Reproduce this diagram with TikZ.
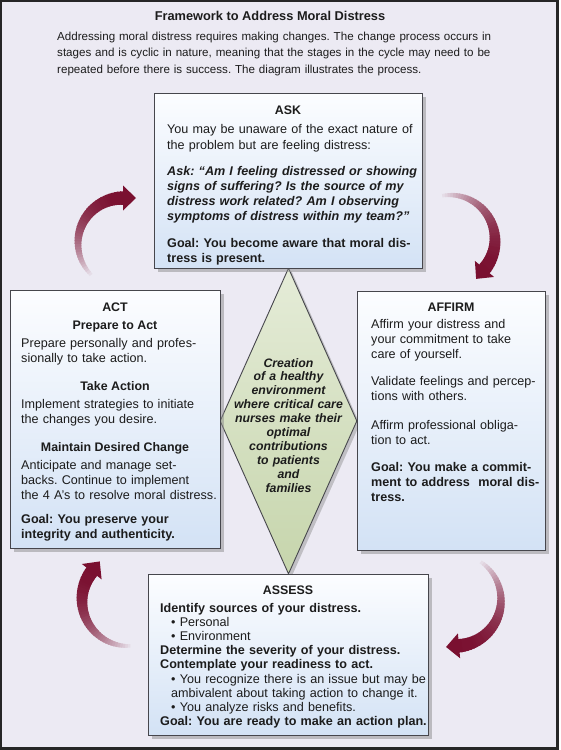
\documentclass[tikz,border=0pt]{standalone}
\usepackage{fontspec}
\setmainfont{Liberation Sans}
\usetikzlibrary{shapes.geometric,shadows}
\frenchspacing
\definecolor{bgcol}{RGB}{236,234,243}
\definecolor{mdred}{RGB}{122,16,48}
\definecolor{boxtop}{RGB}{252,253,255}
\definecolor{boxbot}{RGB}{211,226,245}
\definecolor{dtop}{RGB}{229,236,216}
\definecolor{dbot}{RGB}{198,213,172}
\definecolor{edgecol}{RGB}{70,70,76}
\definecolor{ink}{RGB}{28,28,28}
\newcommand{\mdarrow}[5]{%
  \foreach \i in {0,...,39}{%
    \pgfmathsetmacro{\ta}{#4+(#5-#4)*\i/40}%
    \pgfmathsetmacro{\tb}{#4+(#5-#4)*(\i+1.4)/40}%
    \pgfmathsetmacro{\w}{3.5+10*\i/39}%
    \pgfmathsetmacro{\p}{int(6+94*(\i/39)*(2-\i/39))}%
    \draw[line width=\w pt, draw=mdred!\p!bgcol] ({#1+#3*cos(\ta)},{#2+#3*sin(\ta)}) -- ({#1+#3*cos(\tb)},{#2+#3*sin(\tb)});
  }
  \pgfmathsetmacro{\bx}{#1+#3*cos(#5)}%
  \pgfmathsetmacro{\by}{#2+#3*sin(#5)}%
  \pgfmathsetmacro{\dx}{-sin(#5)}%
  \pgfmathsetmacro{\dy}{cos(#5)}%
  \pgfmathsetmacro{\nx}{cos(#5)}%
  \pgfmathsetmacro{\ny}{sin(#5)}%
  \fill[mdred] ({\bx+13*(\dx)},{\by+13*(\dy)}) -- ({\bx+12.5*(\nx)},{\by+12.5*(\ny)}) -- ({\bx-12.5*(\nx)},{\by-12.5*(\ny)}) -- cycle;
}
\tikzset{
  body/.style={font=\fontsize{12.6}{15}\selectfont, text=ink, anchor=base west, align=left, text width=320pt, inner sep=0pt},
  hd/.style={font=\bfseries\fontsize{12.4}{15}\selectfont, text=ink, anchor=base, inner sep=0pt},
  box/.style={draw=edgecol, line width=0.9pt, top color=boxtop, bottom color=boxbot, inner sep=0pt, anchor=north west,
    drop shadow={shadow xshift=3.5pt, shadow yshift=-3.5pt, fill=black!45, opacity=0.5}},
}
\begin{document}
\begin{tikzpicture}[x=1pt,y=-1pt]
\useasboundingbox (0,0) rectangle (560,750);
\fill[white] (0,0) rectangle (560,750);
\fill[bgcol] (1,1) rectangle (557.5,748.5);
\draw[line width=2.4pt, draw=black!85] (1.2,1.2) rectangle (557.5,748.5);

% title and intro
\node[hd, font=\bfseries\fontsize{12.8}{15}\selectfont] (title) at (270,20) {Framework to Address Moral Distress};
\node[body, font=\fontsize{11.6}{16.5}\selectfont, text width=480pt] (intro) at (57,40) {Addressing moral distress requires making changes. The change process occurs in\\stages and is cyclic in nature, meaning that the stages in the cycle may need to be\\repeated before there is success. The diagram illustrates the process.};

% arrows
\mdarrow{123}{243}{45}{135}{270}
\mdarrow{450}{240}{45}{260}{400}
\mdarrow{455}{600}{46}{-56}{85}
\mdarrow{128}{600}{46}{87}{218}

% central diamond
\node[diamond, draw=edgecol, line width=0.9pt, top color=dtop, bottom color=dbot, minimum width=137pt, minimum height=306pt, inner sep=0pt,
  drop shadow={shadow xshift=3pt, shadow yshift=-3pt, fill=black!45, opacity=0.45}] (hub) at (288.5,421) {};
\node[font=\bfseries\itshape\fontsize{12.3}{13.9}\selectfont, text=ink, align=center, text width=150pt, inner sep=0pt, anchor=base] (hubtext) at (288.5,367) {Creation\\of a healthy\\environment\\where critical care\\nurses make their\\optimal\\contributions\\to patients\\and\\families};

% boxes
\node[box, minimum width=268pt, minimum height=175pt] (ask) at (154,93) {};
\node[box, minimum width=210pt, minimum height=258pt] (act) at (10,290) {};
\node[box, minimum width=188pt, minimum height=259pt] (affirm) at (357,291) {};
\node[box, minimum width=280pt, minimum height=161pt] (assess) at (148,574) {};

% ASK
\node[hd] (askh) at (288,114) {ASK};
\node[body, font=\fontsize{12.6}{16}\selectfont] (askp1) at (167,133) {You may be unaware of the exact nature of\\the problem but are feeling distress:};
\node[body] (askp2) at (167,175) {\bfseries\itshape Ask: “Am I feeling distressed or showing\\signs of suffering? Is the source of my\\distress work related? Am I observing\\symptoms of distress within my team?”};
\node[body] (askg) at (167,247) {\bfseries Goal: You become aware that moral dis-\\tress is present.};

% ACT
\node[hd] (acth) at (115,311) {ACT};
\node[hd] (acth1) at (115,329.5) {Prepare to Act};
\node[body] (actp1) at (21,347) {Prepare personally and profes-\\sionally to take action.};
\node[hd] (acth2) at (115,390) {Take Action};
\node[body] (actp2) at (21,408) {Implement strategies to initiate\\the changes you desire.};
\node[hd] (acth3) at (115,451) {Maintain Desired Change};
\node[body] (actp3) at (21,469) {Anticipate and manage set-\\backs. Continue to implement\\the 4 A’s to resolve moral distress.};
\node[body] (actg) at (21,523) {\bfseries Goal: You preserve your\\integrity and authenticity.};

% AFFIRM
\node[hd] (affh) at (451,311) {AFFIRM};
\node[body] (affp1) at (371,328) {Affirm your distress and\\your commitment to take\\care of yourself.};
\node[body] (affp2) at (371,385) {Validate feelings and percep-\\tions with others.};
\node[body] (affp3) at (371,429) {Affirm professional obliga-\\tion to act.};
\node[body] (affg) at (371,471) {\bfseries Goal: You make a commit-\\ment to address\ \ moral dis-\\tress.};

% ASSESS
\node[hd] (assh) at (288,594) {ASSESS};
\node[body, font=\fontsize{12.6}{14.2}\selectfont] (assp) at (160,612) {{\bfseries Identify sources of your distress.}\\
\hspace*{11pt}\textbullet\ Personal\\
\hspace*{11pt}\textbullet\ Environment\\
{\bfseries Determine the severity of your distress.}\\
{\bfseries Contemplate your readiness to act.}\\
\hspace*{11pt}\textbullet\ You recognize there is an issue but may be\\
\hspace*{11pt}ambivalent about taking action to change it.\\
\hspace*{11pt}\textbullet\ You analyze risks and benefits.\\
{\bfseries Goal: You are ready to make an action plan.}};
\end{tikzpicture}
\end{document}
